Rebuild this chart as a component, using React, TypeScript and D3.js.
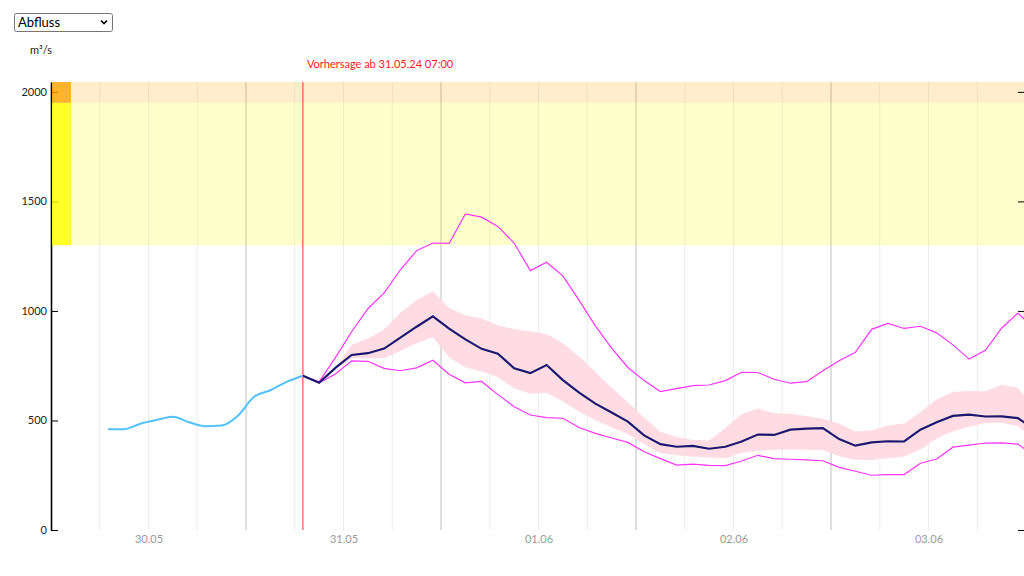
import React, { useRef, useEffect } from 'react';
import * as d3 from 'd3';

// hours counted from 30.05.24 00:00
const START = new Date(2024, 4, 30);
const END = new Date(2024, 5, 4);
const FORECAST_HOUR = 31;

const obsHours = [7, 9, 11, 13, 15, 17, 19, 21, 23, 25, 27, 29, 31];
const observed = [460, 460, 485, 502, 517, 492, 474, 477, 522, 608, 638, 676, 704];

const fcHours = [
  31, 33, 35, 37, 39, 41, 43, 45, 47, 49,
  51, 53, 55, 57, 59, 61, 63, 65, 67, 69,
  71, 73, 75, 77, 79, 81, 83, 85, 87, 89,
  91, 93, 95, 97, 99, 101, 103, 105, 107, 109,
  111, 113, 115, 117, 119, 121,
];
const median = [
  704, 672, 740, 799, 807, 828, 878, 928, 975, 919,
  870, 827, 805, 738, 716, 753, 684, 627, 577, 536,
  495, 432, 392, 380, 384, 371, 380, 404, 436, 434,
  458, 463, 465, 415, 385, 400, 405, 404, 458, 492,
  521, 527, 518, 519, 511, 460,
];
const maxLine = [
  704, 676, 787, 905, 1010, 1082, 1188, 1275, 1310, 1308,
  1443, 1428, 1386, 1310, 1184, 1222, 1160, 1048, 932, 830,
  742, 682, 632, 645, 659, 662, 682, 720, 719, 688,
  670, 677, 727, 773, 811, 916, 943, 920, 930, 900,
  845, 780, 820, 921, 990, 920,
];
const minLine = [
  704, 672, 712, 772, 770, 738, 727, 740, 775, 711,
  672, 678, 618, 563, 525, 513, 510, 468, 441, 420,
  400, 357, 326, 296, 301, 295, 294, 315, 341, 326,
  323, 320, 316, 286, 268, 250, 253, 253, 305, 324,
  378, 387, 397, 398, 392, 340,
];
const bandHigh = [
  704, 676, 740, 845, 874, 915, 992, 1050, 1090, 1013,
  980, 965, 935, 916, 907, 895, 853, 792, 721, 650,
  583, 514, 449, 425, 412, 408, 466, 528, 555, 533,
  531, 520, 508, 486, 450, 455, 477, 486, 538, 596,
  630, 635, 633, 662, 650, 560,
];
const bandLow = [
  704, 670, 731, 784, 784, 784, 818, 852, 880, 788,
  743, 723, 697, 647, 622, 626, 586, 541, 501, 469,
  438, 393, 350, 341, 335, 331, 327, 353, 362, 366,
  368, 366, 364, 337, 321, 319, 327, 336, 368, 418,
  451, 471, 488, 489, 475, 410,
];

const yTicks = [0, 500, 1000, 1500, 2000];
const dayLabelHours = [12, 36, 60, 84, 108];
const gridHours = d3.range(6, 120, 6);
const warnLevels = [1300, 1950, 2045];

const FONT = "Lato, 'Open Sans', sans-serif";

const App = () => {
  const yAxisRef = useRef(null);
  const yAxisRightRef = useRef(null);
  const xAxisRef = useRef(null);

  const left = 51, right = 1026, top = 82, bottom = 530;
  const at = (h: number) => d3.timeHour.offset(START, h);
  const x = d3.scaleTime().domain([START, END]).range([left, right]);
  const y = d3.scaleLinear().domain([0, 2045]).range([bottom, top]);

  useEffect(() => {
    const ya = d3.select(yAxisRef.current);
    ya.selectAll('*').remove();
    ya.call(d3.axisLeft(y).tickValues(yTicks).tickFormat(d3.format('d')).tickSize(-7).tickSizeOuter(0).tickPadding(4));
    ya.select('.domain').attr('stroke', '#000').attr('stroke-width', 1.6);
    ya.selectAll('.tick line').attr('stroke', '#000');
    ya.selectAll('.tick text').attr('fill', '#222').style('font-family', FONT).style('font-size', '11px');

    const yr = d3.select(yAxisRightRef.current);
    yr.selectAll('*').remove();
    yr.call(d3.axisRight(y).tickValues(yTicks).tickSize(-8).tickSizeOuter(0).tickFormat(() => ''));
    yr.selectAll('.tick line').attr('stroke', '#000');

    const xa = d3.select(xAxisRef.current);
    xa.selectAll('*').remove();
    xa.call(
      d3.axisBottom(x)
        .tickValues(dayLabelHours.map(at))
        .tickSize(0)
        .tickPadding(5)
        .tickFormat((d) => d3.timeFormat('%d.%m')(d as Date))
    );
    xa.select('.domain').remove();
    xa.selectAll('.tick text').attr('fill', '#999').style('font-family', FONT).style('font-size', '11px');
  }, []);

  const obsLine = d3.line<number>()
    .x((_, i) => x(at(obsHours[i])))
    .y((d) => y(d))
    .curve(d3.curveMonotoneX);
  const fcLine = d3.line<number>()
    .x((_, i) => x(at(fcHours[i])))
    .y((d) => y(d));
  const band = d3.area<number>()
    .x((_, i) => x(at(fcHours[i])))
    .y0((_, i) => y(bandLow[i]))
    .y1((d) => y(d));

  const fx = x(at(FORECAST_HOUR));

  return (
    <svg width={1024} height={576} style={{ position: 'absolute', left: 0, top: 0, display: 'block' }}
      fontFamily={FONT}>
      <defs>
        <clipPath id="plot">
          <rect x={left} y={top} width={right - left} height={bottom - top} />
        </clipPath>
      </defs>

      {/* dropdown */}
      <rect x={14.5} y={13.5} width={98} height={18} rx={2} fill="#fff" stroke="#767676" />
      <text x={18} y={27} fontSize={13} fill="#000">Abfluss</text>
      <path d="M101,20.5 L104,23.5 L107,20.5" fill="none" stroke="#000" strokeWidth={1.6} />

      <text x={30} y={54} fontSize={11} fill="#222">m³/s</text>
      <text x={fx + 4} y={68} fontSize={11} fill="#ff1a1a">Vorhersage ab 31.05.24 07:00</text>

      {gridHours.map((h) => (
        <line key={h} x1={x(at(h))} x2={x(at(h))} y1={top} y2={bottom}
          stroke={h % 24 === 0 ? '#cccccc' : '#ececec'} strokeWidth={h % 24 === 0 ? 1.3 : 1} />
      ))}

      {/* warning levels */}
      <rect x={left} y={y(warnLevels[1])} width={right - left} height={y(warnLevels[0]) - y(warnLevels[1])}
        fill="#ffff00" opacity={0.2} />
      <rect x={left} y={y(warnLevels[2])} width={right - left} height={y(warnLevels[1]) - y(warnLevels[2])}
        fill="#ffa500" opacity={0.2} />

      <g ref={yAxisRef} transform={`translate(${left},0)`} />
      <g ref={yAxisRightRef} transform={`translate(${right},0)`} />
      <g ref={xAxisRef} transform={`translate(0,${bottom})`} />

      <rect x={left + 1} y={y(warnLevels[1])} width={19} height={y(warnLevels[0]) - y(warnLevels[1])}
        fill="#ffff00" opacity={0.8} />
      <rect x={left + 1} y={y(warnLevels[2])} width={19} height={y(warnLevels[1]) - y(warnLevels[2])}
        fill="#ffa500" opacity={0.8} />

      <line x1={fx} x2={fx} y1={top} y2={bottom} stroke="#ff4d4d" strokeWidth={1.2} />

      <g clipPath="url(#plot)">
        <path d={band(bandHigh) ?? ''} fill="#ffdce3" />
        <path d={fcLine(maxLine) ?? ''} fill="none" stroke="#ff33ff" strokeWidth={1.2} />
        <path d={fcLine(minLine) ?? ''} fill="none" stroke="#ff33ff" strokeWidth={1.2} />
        <path d={fcLine(median) ?? ''} fill="none" stroke="#191970" strokeWidth={2.2} />
        <path d={obsLine(observed) ?? ''} fill="none" stroke="#52c1ff" strokeWidth={2} />
      </g>
    </svg>
  );
};

export default App;
